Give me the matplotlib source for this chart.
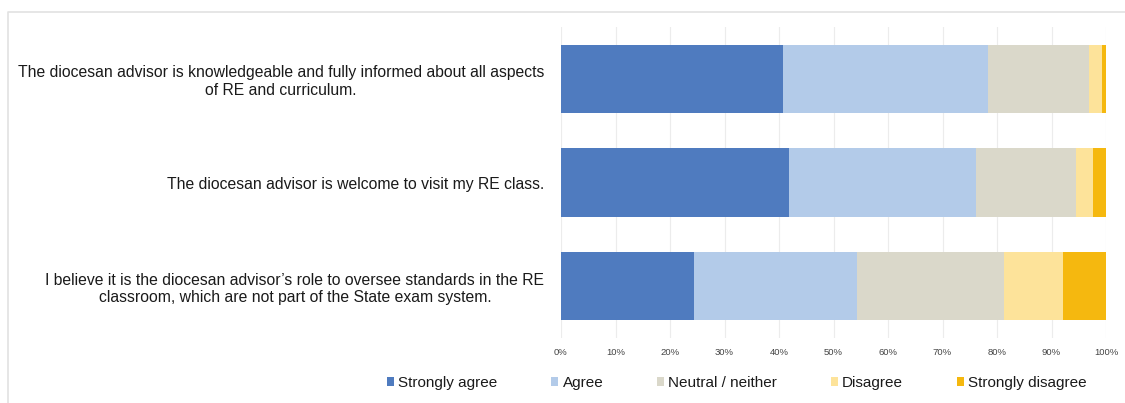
import matplotlib.pyplot as plt
from matplotlib.lines import Line2D
import numpy as np

plt.rcParams['font.family'] = ['Liberation Sans', 'DejaVu Sans']

statements = [
    "The diocesan advisor is knowledgeable and fully informed about all aspects\nof RE and curriculum.",
    "The diocesan advisor is welcome to visit my RE class.",
    "I believe it is the diocesan advisor\u2019s role to oversee standards in the RE\nclassroom, which are not part of the State exam system.",
]
responses = ["Strongly agree", "Agree", "Neutral / neither", "Disagree", "Strongly disagree"]

# percentage of respondents per statement
strongly_agree = [40.7, 41.8, 24.4]
agree = [37.6, 34.3, 29.9]
neutral = [18.6, 18.4, 27.0]
disagree = [2.4, 3.1, 10.8]
strongly_disagree = [0.7, 2.4, 7.9]

colors = ['#4f7bbf', '#b3cbe9', '#dad8ca', '#fde39a', '#f5b80f']

fig = plt.figure(figsize=(11.25, 4.03), dpi=100)
ax = fig.add_axes([561 / 1125, 1 - 338 / 403, 545 / 1125, 311 / 403])

y = np.arange(len(statements))
left = np.zeros(len(statements))
for vals, col, lab in zip([strongly_agree, agree, neutral, disagree, strongly_disagree],
                          colors, responses):
    ax.barh(y, vals, left=left, height=0.66, color=col, label=lab, zorder=2)
    left += np.array(vals)

ax.set_xlim(0, 100)
ax.set_ylim(2.5, -0.5)
ax.set_xticks(np.arange(0, 101, 10))
ax.set_xticklabels([f'{v}%' for v in range(0, 101, 10)], fontsize=6.8, color='#444444')
ax.set_yticks(y)
ax.set_yticklabels(statements, fontsize=11.3, color='#1a1a1a', multialignment='center')
ax.tick_params(axis='both', length=0)
ax.tick_params(axis='x', pad=7)
ax.tick_params(axis='y', pad=12)
ax.grid(axis='x', color='#ececec', linewidth=0.8, zorder=0)
for s in ax.spines.values():
    s.set_visible(False)

# light frame along top and left edge
fig.add_artist(Line2D([8 / 1125, 8 / 1125, 1.0], [0.0, 1 - 12 / 403, 1 - 12 / 403],
                      color='#e2e2e2', linewidth=1.2, transform=fig.transFigure))

fig.legend(loc='center', bbox_to_anchor=(0.655, 0.05), ncol=5, frameon=False,
           fontsize=11, handlelength=0.45, handleheight=0.45, handletextpad=0.3,
           columnspacing=3.5, labelcolor='#1a1a1a')

fig.savefig('out.png', dpi=100)
